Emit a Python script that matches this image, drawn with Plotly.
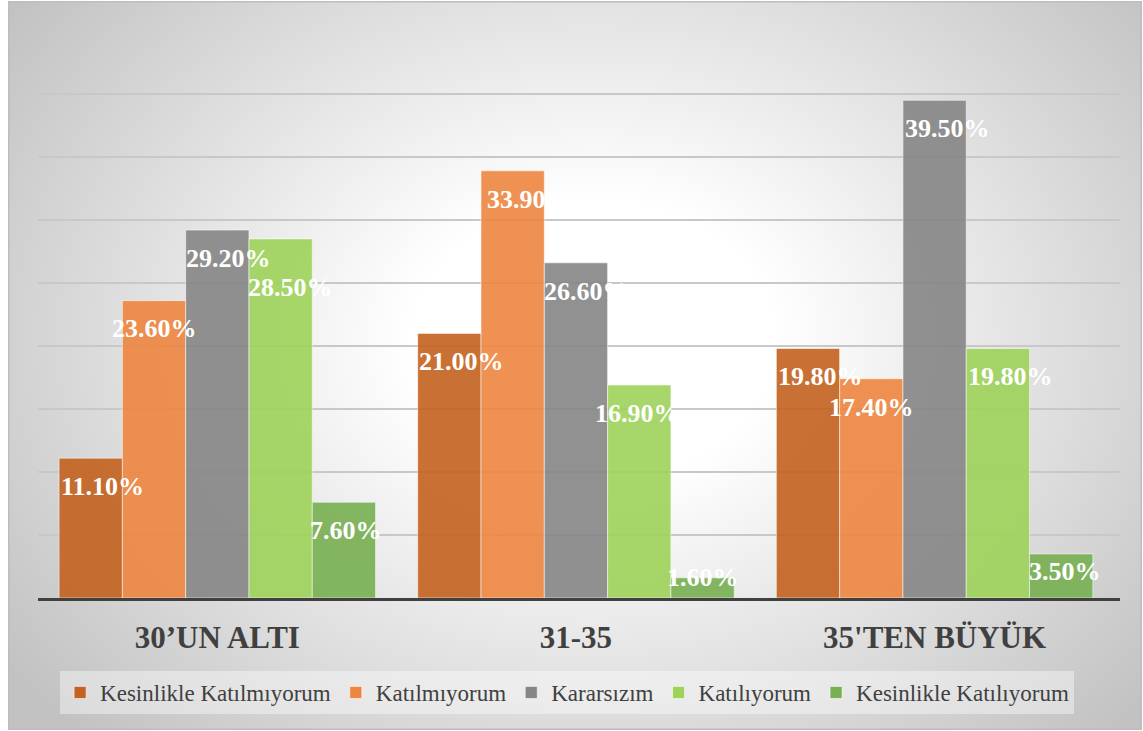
import base64
import plotly.graph_objects as go

# Survey answers by age group (percent of respondents)
categories = ["30’UN ALTI", "31-35", "35'TEN BÜYÜK"]
series_names = [
    "Kesinlikle Katılmıyorum",
    "Katılmıyorum",
    "Kararsızım",
    "Katılıyorum",
    "Kesinlikle Katılıyorum",
]
kesinlikle_katilmiyorum = [11.10, 21.00, 19.80]
katilmiyorum = [23.60, 33.90, 17.40]
kararsizim = [29.20, 26.60, 39.50]
katiliyorum = [28.50, 16.90, 19.80]
kesinlikle_katiliyorum = [7.60, 1.60, 3.50]

series_values = [
    kesinlikle_katilmiyorum,
    katilmiyorum,
    kararsizim,
    katiliyorum,
    kesinlikle_katiliyorum,
]
colors = ["#C4621F", "#EE8640", "#868686", "#9ED25A", "#78B052"]

# Hand-placed value labels: (series, group) -> (dx, dy) pixel nudges
label_nudge = {
    (0, 0): (12, 0), (2, 0): (11, 0), (3, 0): (10, -20), (4, 0): (2, 0),
    (0, 1): (12, 0), (1, 1): (17, 0), (2, 1): (11, 0), (3, 1): (-2, 0),
    (4, 1): (0, 8),
    (0, 2): (13, 0), (2, 2): (13, 0), (3, 2): (13, 0), (4, 2): (4, 0),
}

SERIF = "Liberation Serif, Times New Roman, serif"
W, H = 1143, 731
M_L, M_R, M_T, M_B = 38, 23, 31, 133
BAR_W = 0.1765

fig = go.Figure()
annotations = []
group_pos = list(range(len(categories)))
n = len(series_names)

for i, (name, vals, col) in enumerate(zip(series_names, series_values, colors)):
    xs = [g + (i - (n - 1) / 2) * BAR_W for g in group_pos]
    fig.add_trace(go.Bar(
        name=name,
        x=xs,
        y=vals,
        width=BAR_W,
        marker=dict(color=col, opacity=0.9,
                    line=dict(color="rgba(255,255,255,0.55)", width=1)),
        hoverinfo="name+y",
    ))
    for j, (x, v) in enumerate(zip(xs, vals)):
        dx, dy = label_nudge.get((i, j), (0, 0))
        annotations.append(dict(
            x=x, y=v - min(2.25, 0.4 * v), xref="x", yref="y",
            xshift=dx, yshift=dy,
            text=f"{v:.2f}%", showarrow=False,
            font=dict(family=SERIF, size=26, color="white", weight="bold"),
            xanchor="center", yanchor="middle",
        ))

# Radial gray-to-white background panel with a thin frame
pw, ph = 1134, 729
svg = f"""<svg xmlns='http://www.w3.org/2000/svg' width='{pw}' height='{ph}' viewBox='0 0 {pw} {ph}'>
<defs><radialGradient id='g' gradientUnits='userSpaceOnUse' cx='0' cy='0' r='1'
 gradientTransform='translate(585 340) scale(720 560)'>
<stop offset='0' stop-color='#ffffff'/><stop offset='0.25' stop-color='#ffffff'/>
<stop offset='1' stop-color='#c2c2c2'/></radialGradient></defs>
<rect x='0.75' y='0.75' width='{pw - 1.5}' height='{ph - 1.5}' fill='url(#g)' stroke='#bdbdbd' stroke-width='1.5'/>
</svg>"""
src = "data:image/svg+xml;base64," + base64.b64encode(svg.encode()).decode()

plot_w = W - M_L - M_R
plot_h = H - M_T - M_B

fig.update_layout(
    width=W, height=H,
    font=dict(family=SERIF, color="#404040"),
    margin=dict(l=M_L, r=M_R, t=M_T, b=M_B, pad=0, autoexpand=False),
    paper_bgcolor="white",
    plot_bgcolor="rgba(0,0,0,0)",
    barmode="overlay",
    showlegend=True,
    images=[dict(
        source=src, xref="paper", yref="paper",
        x=(8 - M_L) / plot_w, y=(H - M_B - 1) / plot_h,
        sizex=pw / plot_w, sizey=ph / plot_h,
        xanchor="left", yanchor="top", sizing="stretch", layer="below",
    )],
    xaxis=dict(
        range=[-0.5, 2.517],
        tickvals=group_pos, ticktext=categories,
        tickfont=dict(family=SERIF, size=31, color="#404040", weight="bold"),
        showgrid=False, zeroline=False, ticks="",
        showline=True, linecolor="#404040", linewidth=3,
        ticklabelstandoff=10, automargin=False, fixedrange=True,
    ),
    yaxis=dict(
        range=[0, 45], dtick=5, showticklabels=False,
        showgrid=True, gridcolor="#c8c8c8", gridwidth=2,
        zeroline=False, automargin=False, fixedrange=True,
    ),
    legend=dict(
        orientation="h", x=0.489, xanchor="center",
        y=(H - M_B - 671) / plot_h, yanchor="top",
        font=dict(family=SERIF, size=23, color="#404040"),
        bgcolor="rgba(255,255,255,0.4)",
        itemclick=False, itemdoubleclick=False,
    ),
    annotations=annotations,
)

fig.write_html("out.html")
